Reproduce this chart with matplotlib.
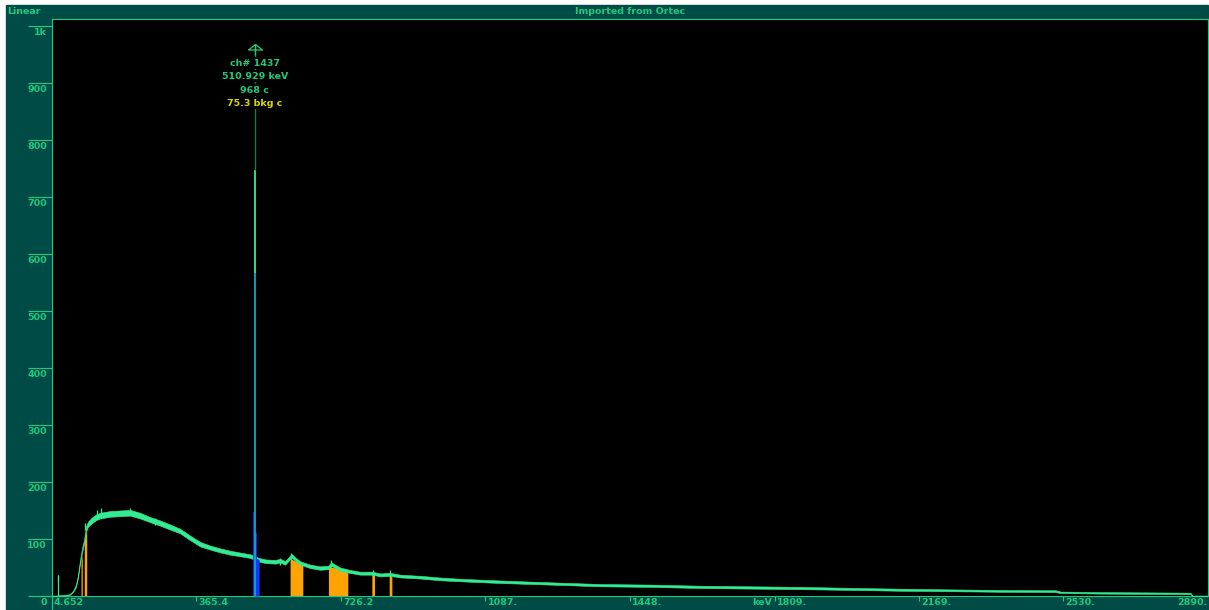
"""Gamma spectrum view: Linear counts vs energy"""

import matplotlib

matplotlib.use("Agg")
import matplotlib.pyplot as plt
from matplotlib.patches import Rectangle
from matplotlib.path import Path

W, H = 1209, 610

TEAL = "#004b46"
GREEN = "#1ecb7c"
MINT = "#33ec92"
YELLOW = "#d8d800"
ORANGE = "#ffa300"
BLUE = "#0b3cff"
CYAN = "#1aa2c4"
DARK_GREEN = "#0d7d4a"

# continuum (keV, counts, half width of the noisy band)
spec_kev = [
    4.7, 14.6, 22.1, 37.1, 49.6, 57.1, 64.6, 69.6, 74.6, 79.6, 84.6, 89.6, 94.6,
    104.6, 114.6, 124.6, 149.6, 174.5, 199.5, 224.5, 249.5, 274.5, 299.5, 324.4,
    349.4, 374.4, 399.4, 424.4, 449.3, 474.3, 499.3, 519.3, 536.8, 561.8, 574.3,
    586.7, 599.3, 604.2, 614.2, 624.2, 649.2, 674.2, 694.2, 701.7, 711.7, 724.2,
    749.1, 774.1, 804.1, 824.1, 849.1, 874.0, 924.0, 974.0, 1023.9, 1123.8,
    1248.8, 1373.7, 1498.6, 1623.5, 1748.3, 1873.2, 1998.1, 2123.0, 2247.9,
    2372.8, 2510.2, 2522.7, 2622.6, 2747.6, 2847.5, 2852.5, 2890.0,
]
spec_counts = [
    0.5, 0.5, 0.8, 1.2, 3, 8, 18, 35, 60, 80, 95, 118, 126,
    133, 138, 141, 144, 145, 146, 141, 134, 128, 121, 114,
    102, 91, 85, 80, 76, 73, 70, 64, 61, 60, 62,
    58, 68, 70, 63, 58, 52, 49, 50, 56, 52, 47,
    43, 40, 40, 37, 38, 35, 33, 30, 28, 25,
    22, 19, 18, 16, 15, 14, 12.5, 11, 10,
    9, 8.5, 6.5, 5.5, 5, 4.5, 0.5, 0.5,
]
spec_spread = [
    0.3, 0.3, 0.3, 0.4, 0.6, 1.2, 2, 3, 3.5, 3.5, 4, 4.5, 4.5,
    5, 5, 5, 5, 5, 5, 5, 4.5, 4.5, 4.5, 4,
    4, 4, 3.5, 3.5, 3.5, 3.2, 3.2, 3.2, 3.2, 3.2, 3.2,
    3.2, 3.2, 3.2, 3.2, 3, 3, 3, 3, 3, 3, 3,
    2.6, 2.6, 2.6, 2.6, 2.6, 2.4, 2.4, 2.4, 2.2, 2.2,
    2, 2, 2, 2, 2, 2, 1.8, 1.8, 1.6,
    1.6, 1.6, 1.3, 1.3, 1.3, 1.3, 0.3, 0.3,
]

# single-channel spikes standing out of the band
spike_kev = [19.6, 86.0, 118.0, 127.0, 199.0, 262.0, 575.0, 600.5, 700.5,
             805.0, 849.5]
spike_counts = [37, 128, 150, 154, 155, 137, 67, 76, 63, 46, 46]

# regions of interest
roi_kev = [(77.1, 80.3), (85.3, 91.3), (599.2, 630.9), (694.9, 743.3),
           (803.3, 810.0), (846.6, 853.3)]
roi_top = [(60, 72), (96, 118), (66, 54), (52, 44), (38, 37), (36, 35)]

peak_roi_kev = (509.3, 521.8)
peak_roi_top = (68, 64)
blue_spike_kev = [508.8, 514.5]
blue_spike_counts = [147, 110]

# 511 keV annihilation peak
peak_channel = 1437
peak_kev = 510.929
peak_counts = 968
peak_bkg = 75.3
peak_colour_breaks = [567, 747]

y_ticks = [0, 100, 200, 300, 400, 500, 600, 700, 800, 900, 1000]
y_labels = ["0", "100", "200", "300", "400", "500", "600", "700", "800", "900", "1k"]
x_ticks = [365.4, 726.2, 1087, 1448, 1809, 2169, 2530]
x_labels = ["365.4", "726.2", "1087.", "1448.", "1809.", "2169.", "2530."]
x_min, x_max = 4.652, 2890.0

plt.rcParams["font.family"] = ["DejaVu Sans"]
FS = 6.8

fig = plt.figure(figsize=(W / 100, H / 100), dpi=100, facecolor="white")
fig.patches.append(
    Rectangle((6 / W, 0), (1208 - 6) / W, (H - 5) / H,
              transform=fig.transFigure, color=TEAL, zorder=-10)
)
fig.text(7 / W, 1 - 12 / H, "Linear", color=GREEN, fontsize=FS,
         fontweight="bold", ha="left", va="center")
fig.text(630 / W, 1 - 12 / H, "Imported from Ortec", color=GREEN, fontsize=FS,
         fontweight="bold", ha="center", va="center")

ax = fig.add_axes([52 / W, 14 / H, (1207.5 - 52) / W, 577 / H])
ax.set_zorder(1)
ax.set_facecolor("black")
ax.set_xlim(x_min, x_max)
ax.set_ylim(0, 1012)
for side in ax.spines.values():
    side.set_color(GREEN)
    side.set_linewidth(0.8)

# orange ROIs
for (e0, e1), (t0, t1) in zip(roi_kev, roi_top):
    ax.fill_between([e0, e1], [0, 0], [t0, t1], color=ORANGE, lw=0, zorder=2)

# spectrum band
lo = [c - s for c, s in zip(spec_counts, spec_spread)]
hi = [c + s for c, s in zip(spec_counts, spec_spread)]
ax.fill_between(spec_kev, lo, hi, color=MINT, lw=0.4, ec=MINT, zorder=3)
spike_base = [max(c - 12, 0) for c in spike_counts]
ax.vlines(spike_kev, spike_base, spike_counts, color=MINT, lw=0.9, zorder=3)
ax.vlines(spike_kev[0], 0, spike_counts[0], color=MINT, lw=0.9, zorder=3)

# peak ROI in blue
ax.fill_between(list(peak_roi_kev), [0, 0], list(peak_roi_top), color=BLUE,
                lw=0, zorder=4)
ax.vlines(blue_spike_kev, 0, blue_spike_counts, color=BLUE, lw=1.2, zorder=4)

# peak line, coloured in sections
ax.vlines(peak_kev, 0, peak_colour_breaks[0], color=CYAN, lw=1.3, zorder=5)
ax.vlines(peak_kev, peak_colour_breaks[0], peak_colour_breaks[1], color=MINT,
          lw=1.3, zorder=5)
ax.vlines(peak_kev, peak_colour_breaks[1], peak_counts, color=DARK_GREEN,
          lw=1.0, zorder=5)

# cursor marker at the peak top
cursor = Path(
    [(-7, -5.5), (0, 0), (7, -5.5), (-7, -5.5), (0, 0), (0, -11)],
    [Path.MOVETO, Path.LINETO, Path.LINETO, Path.LINETO, Path.MOVETO, Path.LINETO],
)
ax.plot([peak_kev], [peak_counts], marker=cursor, ms=15.8, mfc="none",
        mec=GREEN, mew=0.9, ls="none", zorder=7, clip_on=False)

peak_lines = [
    (f"ch# {peak_channel}", GREEN, 19),
    (f"{peak_kev:.3f} keV", GREEN, 32),
    (f"{peak_counts} c", GREEN, 46),
    (f"{peak_bkg} bkg c", YELLOW, 59),
]
for text, colour, dy in peak_lines:
    ax.annotate(text, (peak_kev, peak_counts), xytext=(0, -dy),
                textcoords="offset pixels", ha="center", va="center",
                color=colour, fontsize=FS, fontweight="bold", zorder=6,
                bbox=dict(boxstyle="square,pad=0.15", fc="black", ec="none"))

# y axis ticks: long lines out to the left, labels hang beneath
ax.set_yticks(y_ticks)
ax.tick_params(axis="y", length=17.3, width=0.8, color=GREEN, direction="out",
               labelleft=False)
for v, lab in zip(y_ticks, y_labels):
    ax.annotate(lab, (0, v), xycoords=("axes fraction", "data"),
                xytext=(-5, -2), textcoords="offset pixels", ha="right",
                va="top", color=GREEN, fontsize=FS, fontweight="bold",
                annotation_clip=False)

# x axis ticks: short marks with labels to their right
ax.set_xticks(x_ticks)
ax.tick_params(axis="x", length=3.8, width=0.8, color=GREEN, direction="out",
               labelbottom=False)
ax.plot([x_min, x_min], [0, -13 / 577], transform=ax.get_xaxis_transform(),
        color=GREEN, lw=0.8, clip_on=False)
for v, lab in zip([x_min] + x_ticks, ["4.652"] + x_labels):
    ax.annotate(lab, (v, 0), xycoords=("data", "axes fraction"),
                xytext=(2, -2), textcoords="offset pixels", ha="left",
                va="top", color=GREEN, fontsize=FS, fontweight="bold",
                annotation_clip=False)
ax.annotate("2890.", (x_max, 0), xycoords=("data", "axes fraction"),
            xytext=(0, -2), textcoords="offset pixels", ha="right", va="top",
            color=GREEN, fontsize=FS, fontweight="bold", annotation_clip=False)
ax.annotate("keV", (1809, 0), xycoords=("data", "axes fraction"),
            xytext=(-2, -2), textcoords="offset pixels", ha="right", va="top",
            color=GREEN, fontsize=FS, fontweight="bold", annotation_clip=False)

fig.savefig("out.png", dpi=100, facecolor="white")
